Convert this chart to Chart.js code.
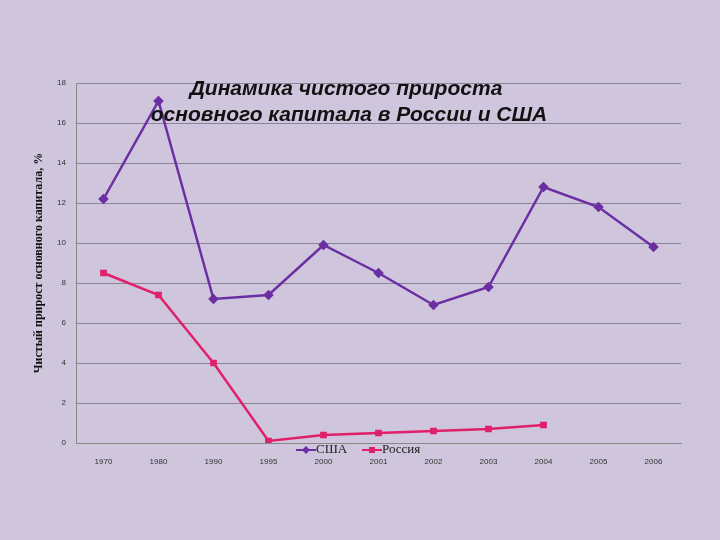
<!DOCTYPE html>
<html>
<head>
<meta charset="utf-8">
<script src="https://cdn.jsdelivr.net/npm/chart.js@4/dist/chart.umd.min.js"></script>
<style>
  html, body { margin: 0; padding: 0; background: #cfc5dc; }
  #wrap { width: 720px; height: 540px; }
</style>
</head>
<body>
<div id="wrap"><canvas id="chart" width="720" height="540"></canvas></div>
<script>
// Данные
const years = ['1970', '1980', '1990', '1995', '2000', '2001', '2002', '2003', '2004', '2005', '2006'];
const usa = [12.2, 17.1, 7.2, 7.4, 9.9, 8.5, 6.9, 7.8, 12.8, 11.8, 9.8];
const russia = [8.5, 7.4, 4.0, 0.1, 0.4, 0.5, 0.6, 0.7, 0.9, null, null];
const yTicks = [0, 2, 4, 6, 8, 10, 12, 14, 16, 18];

const titleLines = ['Динамика чистого прироста', 'основного капитала в России и США'];

// Заголовок и легенда поверх области графика
const overlay = {
    id: 'overlay',
    afterDraw(chart) {
        const ctx = chart.ctx;
        ctx.save();
        ctx.fillStyle = '#111';
        ctx.font = 'italic bold 21px "Liberation Sans", Arial, sans-serif';
        ctx.textAlign = 'center';
        ctx.textBaseline = 'middle';
        ctx.fillText(titleLines[0], 346, 89);
        ctx.fillText(titleLines[1], 349, 115);

        // легенда
        const items = [
            { label: 'США', color: '#6b2fa3', marker: 'rectRot', x: 296 },
            { label: 'Россия', color: '#e0206a', marker: 'rect', x: 362 }
        ];
        ctx.font = '13px "Liberation Serif", "Times New Roman", serif';
        ctx.textAlign = 'left';
        items.forEach(it => {
            const y = 450;
            ctx.strokeStyle = it.color;
            ctx.lineWidth = 2;
            ctx.beginPath();
            ctx.moveTo(it.x, y);
            ctx.lineTo(it.x + 20, y);
            ctx.stroke();
            ctx.fillStyle = it.color;
            if (it.marker === 'rect') {
                ctx.fillRect(it.x + 7, y - 3, 6, 6);
            } else {
                ctx.beginPath();
                ctx.moveTo(it.x + 10, y - 4);
                ctx.lineTo(it.x + 14, y);
                ctx.lineTo(it.x + 10, y + 4);
                ctx.lineTo(it.x + 6, y);
                ctx.closePath();
                ctx.fill();
            }
            ctx.fillStyle = '#222';
            ctx.fillText(it.label, it.x + 20, y);
        });
        ctx.restore();
    }
};

new Chart(document.getElementById('chart'), {
    type: 'line',
    data: {
        labels: years,
        datasets: [
            {
                label: 'США',
                data: usa,
                borderColor: '#6b2fa3',
                backgroundColor: '#6b2fa3',
                borderWidth: 2.5,
                pointStyle: 'rectRot',
                pointRadius: 3.5,
                tension: 0
            },
            {
                label: 'Россия',
                data: russia,
                borderColor: '#e0206a',
                backgroundColor: '#e0206a',
                borderWidth: 2.5,
                pointStyle: 'rect',
                pointRadius: 3,
                tension: 0
            }
        ]
    },
    options: {
        responsive: false,
        animation: false,
        layout: { padding: { left: 32, top: 83, right: 39, bottom: 0 } },
        plugins: {
            legend: { display: false },
            title: { display: false },
            tooltip: { enabled: false }
        },
        scales: {
            x: {
                offset: true,
                grid: { display: false },
                border: { color: '#888' },
                afterFit: s => { s.height = 97; },
                ticks: {
                    color: '#333',
                    font: { size: 8, family: 'Liberation Sans' },
                    maxRotation: 0,
                    padding: 6
                }
            },
            y: {
                min: 0,
                max: 18,
                afterBuildTicks: s => { s.ticks = yTicks.map(v => ({ value: v })); },
                afterFit: s => { s.width = 44; },
                grid: { color: '#8a8496', lineWidth: 1, drawTicks: false },
                border: { color: '#888' },
                ticks: {
                    color: '#333',
                    font: { size: 8, family: 'Liberation Sans' },
                    padding: 10
                },
                title: {
                    display: true,
                    text: 'Чистый прирост основного капитала, %',
                    color: '#111',
                    font: { size: 12, weight: 'bold', family: 'Liberation Serif' },
                    padding: { top: 0, bottom: 4 }
                }
            }
        }
    },
    plugins: [overlay]
});
</script>
</body>
</html>
